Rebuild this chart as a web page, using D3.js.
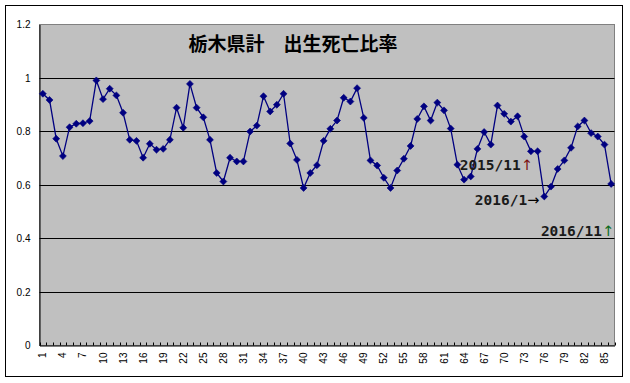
<!DOCTYPE html>
<html>
<head>
<meta charset="utf-8">
<script src="https://cdn.jsdelivr.net/npm/d3@7"></script>
<style>
  html, body { margin: 0; padding: 0; background: #fff; }
  svg { display: block; }
</style>
</head>
<body>
<svg id="chart" width="630" height="383"></svg>
<script>
const title = "栃木県計　出生死亡比率";
const categories = d3.range(1, 87);
const values = [
  0.941, 0.918, 0.773, 0.708, 0.816, 0.829, 0.831, 0.839, 0.991, 0.921,
  0.960, 0.935, 0.870, 0.769, 0.765, 0.702, 0.754, 0.732, 0.735, 0.769,
  0.889, 0.814, 0.978, 0.889, 0.853, 0.769, 0.645, 0.613, 0.702, 0.688,
  0.688, 0.800, 0.822, 0.932, 0.875, 0.900, 0.941, 0.755, 0.694, 0.589,
  0.645, 0.674, 0.765, 0.810, 0.841, 0.926, 0.912, 0.962, 0.851, 0.692,
  0.673, 0.627, 0.589, 0.654, 0.698, 0.746, 0.847, 0.894, 0.841, 0.908,
  0.879, 0.811, 0.676, 0.620, 0.632, 0.735, 0.798, 0.751, 0.897, 0.866,
  0.837, 0.857, 0.781, 0.726, 0.726, 0.557, 0.594, 0.660, 0.692, 0.739,
  0.819, 0.841, 0.794, 0.781, 0.751, 0.604
];
const yTicks = [0, 0.2, 0.4, 0.6, 0.8, 1, 1.2];
const xTickLabels = categories.filter((d, i) => i % 3 === 0);
// annotations: category, anchor value, text, arrow, arrow colour
const annoCats = [74, 76, 86];
const annoVals = [0.656, 0.525, 0.411];
const annoTexts = ["2015/11", "2016/1", "2016/11"];
const annoArrows = ["↑", "→", "↑"];
const annoArrowColors = ["#7a1010", "#000000", "#0a6a1a"];

const svg = d3.select("#chart");
const L = 39.5, R = 614.5, T = 24.5, B = 345.5;

// outer border
svg.append("rect").attr("x", 5.5).attr("y", 5.5).attr("width", 617).attr("height", 371)
  .attr("fill", "#fff").attr("stroke", "#000").attr("stroke-width", 1);

const x = d3.scaleBand().domain(categories).range([L, R]).padding(0);
const y = d3.scaleLinear().domain([0, 1.2]).range([B, T]);

// plot area
svg.append("rect").attr("x", L).attr("y", T).attr("width", R - L).attr("height", B - T)
  .attr("fill", "#c0c0c0").attr("stroke", "#808080").attr("stroke-width", 1);

// gridlines
svg.append("g").selectAll("line").data(yTicks.filter(d => d > 0 && d < 1.2)).join("line")
  .attr("x1", L).attr("x2", R)
  .attr("y1", d => Math.round(y(d)) + 0.5).attr("y2", d => Math.round(y(d)) + 0.5)
  .attr("stroke", "#000").attr("stroke-width", 1);

// y axis
const yAxis = d3.axisLeft(y).tickValues(yTicks).tickSize(0).tickPadding(9)
  .tickFormat(d => d3.format("")(+d.toFixed(1)));
const gy = svg.append("g").attr("transform", `translate(${L},0)`).call(yAxis);
gy.select(".domain").attr("stroke", "#000");
gy.selectAll("text").attr("font-family", "Liberation Sans, Arial, sans-serif")
  .attr("font-size", 10).attr("fill", "#000");

// x axis
const xAxis = d3.axisBottom(x).tickSize(0).tickValues(xTickLabels).tickPadding(0);
const gx = svg.append("g").attr("transform", `translate(0,${B})`).call(xAxis);
gx.select(".domain").attr("stroke", "#000");
gx.selectAll("text")
  .attr("font-family", "Liberation Sans, Arial, sans-serif").attr("font-size", 10).attr("fill", "#000")
  .attr("transform", "rotate(-90)")
  .attr("text-anchor", "end").attr("x", -7).attr("y", 0).attr("dy", "0.35em");
// tick marks at category boundaries (inside)
svg.append("g").selectAll("line").data(categories.concat([null])).join("line")
  .attr("x1", (d, i) => Math.round(L + i * x.step()) + 0.5)
  .attr("x2", (d, i) => Math.round(L + i * x.step()) + 0.5)
  .attr("y1", B).attr("y2", B - 3)
  .attr("stroke", "#000").attr("stroke-width", 1);

// line
const cx = (d, i) => x(categories[i]) + x.bandwidth() / 2;
const line = d3.line().x((d, i) => cx(d, i)).y(d => y(d));
svg.append("path").datum(values).attr("d", line)
  .attr("fill", "none").attr("stroke", "#000080").attr("stroke-width", 1.3);

// diamond markers (square rotated 45deg)
const diamond = d3.symbol().type(d3.symbolSquare).size(24);
svg.append("g").selectAll("path").data(values).join("path")
  .attr("transform", (d, i) => `translate(${cx(d, i)},${y(d)}) rotate(45)`)
  .attr("d", diamond).attr("fill", "#000080").attr("stroke", "#000080").attr("stroke-width", 0.6);

// title
svg.append("text").attr("x", 293).attr("y", 51).attr("text-anchor", "middle")
  .attr("font-family", "Noto Sans CJK JP, sans-serif").attr("font-weight", "bold")
  .attr("font-size", 19).attr("fill", "#000").text(title);

// annotations
const offs = [2, -5, 3];
annoCats.forEach((c, i) => {
  const t = svg.append("text")
    .attr("x", x(c) + x.bandwidth() / 2 + offs[i]).attr("y", y(annoVals[i]))
    .attr("text-anchor", "end")
    .attr("font-family", "DejaVu Sans Mono, monospace").attr("font-weight", "bold")
    .attr("font-size", 14.5).attr("fill", "#1a1a1a");
  t.append("tspan").text(annoTexts[i]);
  t.append("tspan").attr("fill", annoArrowColors[i]).attr("font-family", "DejaVu Sans, sans-serif")
    .attr("font-weight", "normal").text(annoArrows[i]);
});
</script>
</body>
</html>
